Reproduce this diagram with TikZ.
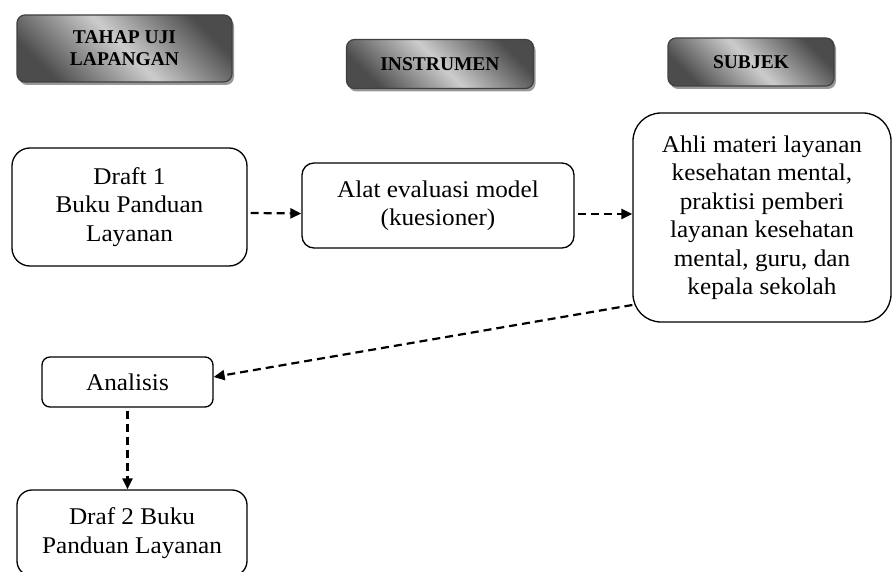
\documentclass[tikz,border=0pt]{standalone}
\usepackage{fontspec}
\setmainfont{Liberation Serif}
\newfontfamily\bodyfont{Liberation Serif}[FakeStretch=1.05]
\usetikzlibrary{arrows.meta,shadows}

\tikzset{
    headbox/.style={draw=black!75, line width=1.2pt, rounded corners=8pt,
        top color=black!70, bottom color=black!70, middle color=black!20,
        shading angle=-45,
        drop shadow={shadow xshift=2pt, shadow yshift=-3pt, fill=black!40, opacity=1},
        font=\fontsize{19.5}{22}\selectfont\bfseries, align=center, inner sep=0pt},
    stagebox/.style={draw, line width=1.3pt, align=center, inner sep=0pt,
        font=\bodyfont\fontsize{24}{28.5}\selectfont},
    flow/.style={line width=2.2pt, dash pattern=on 8pt off 5pt,
        -{Triangle[length=11pt,width=10pt]}}
}

\begin{document}
\begin{tikzpicture}[x=1pt, y=-1pt]
    \useasboundingbox (0,0) rectangle (892,572);

    % --- Column headings ---
    \node[headbox, minimum width=215pt, minimum height=67pt] (tahap) at (124.5,48.5) {TAHAP UJI\\LAPANGAN};
    \node[headbox, minimum width=187pt, minimum height=49pt] (instrumen) at (440,64) {INSTRUMEN};
    \node[headbox, minimum width=166pt, minimum height=48pt] (subjekhead) at (751,62) {SUBJEK};

    % --- Stages ---
    \node[stagebox, rounded corners=18pt, minimum width=235pt, minimum height=118pt] (draft1) at (129.5,207) {Draft 1\\Buku Panduan\\Layanan};
    \node[stagebox, rounded corners=12pt, minimum width=272pt, minimum height=85pt] (alat) at (438,205.5) {Alat evaluasi model\\(kuesioner)};
    \node[stagebox, rounded corners=28pt, minimum width=258pt, minimum height=209pt] (subjek) at (762,217.5)
        {Ahli materi layanan\\kesehatan mental,\\praktisi pemberi\\layanan kesehatan\\mental, guru, dan\\kepala sekolah};
    \node[stagebox, rounded corners=8pt, minimum width=171pt, minimum height=50pt] (analisis) at (127.5,382) {Analisis};
    \node[stagebox, rounded corners=15pt, minimum width=230pt, minimum height=86pt] (draf2) at (132,533) {Draf 2 Buku\\Panduan Layanan};

    % --- Flow ---
    \draw[flow] ([yshift=-6pt, xshift=3pt]draft1.east) -- ([yshift=-8pt]alat.west);
    \draw[flow] ([yshift=-8.5pt, xshift=3pt]alat.east) -- ([yshift=3.5pt]subjek.west);
    \draw[flow] ([yshift=-87.5pt]subjek.west) -- ([yshift=5pt]analisis.east);
    \draw[flow] ([yshift=-3pt]analisis.south) -- (analisis.south |- draf2.north);
\end{tikzpicture}
\end{document}
